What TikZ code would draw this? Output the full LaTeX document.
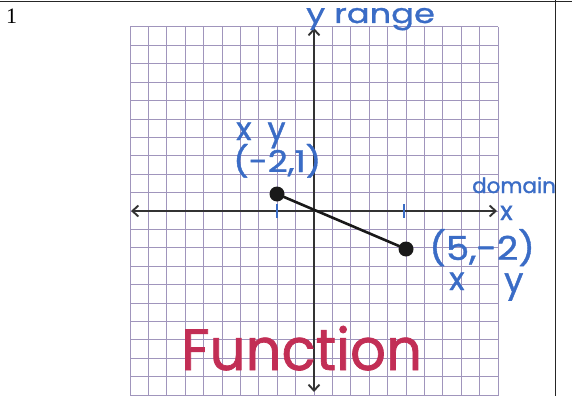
\documentclass[tikz,border=0pt]{standalone}
\usepackage{fontspec}
\newfontfamily\hand[FakeBold=1.2]{Poppins}
\setmainfont{Liberation Serif}
\usetikzlibrary{arrows.meta}
\definecolor{pen}{HTML}{3A6CC6}
\definecolor{redpen}{HTML}{C22E55}
\definecolor{gridc}{HTML}{A095BC}
\tikzset{
  gridline/.style={draw=gridc, line width=1pt},
  axisline/.style={draw=black!80, line width=1.9pt, {Straight Barb[length=6pt,width=11pt]}-{Straight Barb[length=6pt,width=11pt]}},
  dotnode/.style={circle, fill=black!90, minimum size=15pt, inner sep=0pt},
  seg/.style={draw=black!90, line width=2.6pt},
  bluelabel/.style={text=pen, inner sep=0pt, anchor=base west},
  tickmark/.style={draw=pen, line width=2pt},
  frame/.style={draw=black!85, line width=1pt}
}
\newcommand{\hs}[2]{\hand\fontsize{#1}{#1}\selectfont\addfontfeature{FakeStretch=#2}}
\begin{document}
\begin{tikzpicture}[x=1pt,y=-1pt]
\useasboundingbox (0,0) rectangle (572,396);
\fill[white] (0,0) rectangle (572,396);
% frame
\coordinate (ftl) at (0,2);
\coordinate (ftr) at (572,2);
\coordinate (fvt) at (555,0);
\coordinate (fvb) at (555,396);
\draw[frame] (ftl) -- (ftr);
\draw[frame] (fvt) -- (fvb);
\node[anchor=north west, inner sep=0pt, font=\fontsize{22}{22}\selectfont] (num) at (6,9) {1};
% grid
\foreach \i in {0,...,20} {
  \draw[gridline] (130+18.4*\i,27) -- (130+18.4*\i,396);
  \draw[gridline] (130,27+18.4*\i) -- (498,27+18.4*\i);
}
% axes
\coordinate (xl) at (131,211);
\coordinate (xr) at (497,211);
\coordinate (yt) at (314,28);
\coordinate (yb) at (314,392);
\draw[axisline] (xl) -- (xr);
\draw[axisline] (yb) -- (yt);
% ticks
\coordinate (t1a) at (277,204); \coordinate (t1b) at (277,218);
\coordinate (t2a) at (404,204); \coordinate (t2b) at (404,218);
\draw[tickmark] (t1a) -- (t1b);
\draw[tickmark] (t2a) -- (t2b);
% segment
\node[dotnode] (p1) at (277,194) {};
\node[dotnode] (p2) at (406,249) {};
\draw[seg] (p1.center) -- (p2.center);
% labels
\node[bluelabel, font=\hs{27}{1.25}] (yrange) at (306,23) {y range};
\node[bluelabel, font=\hs{32}{1.0}] (xy1) at (236,140) {x\hspace{16pt}y};
\node[bluelabel, font=\hs{30}{1.15}] (pt1) at (233,172) {(-2,1)};
\node[bluelabel, font=\hs{21}{1.02}] (dom) at (472,193) {domain};
\node[bluelabel, font=\hs{26}{1.0}] (xax) at (500,220) {x};
\node[bluelabel, font=\hs{33}{1.12}] (pt2) at (429,260) {(5,-2)};
\node[bluelabel, font=\hs{32}{1.0}] (xl2) at (449,290) {x};
\node[bluelabel, font=\hs{34}{1.0}] (yl2) at (504,292) {y};
\node[text=redpen, font=\hs{58}{0.97}, inner sep=0pt, anchor=base west] (func) at (181,370) {Function};
\end{tikzpicture}
\end{document}
